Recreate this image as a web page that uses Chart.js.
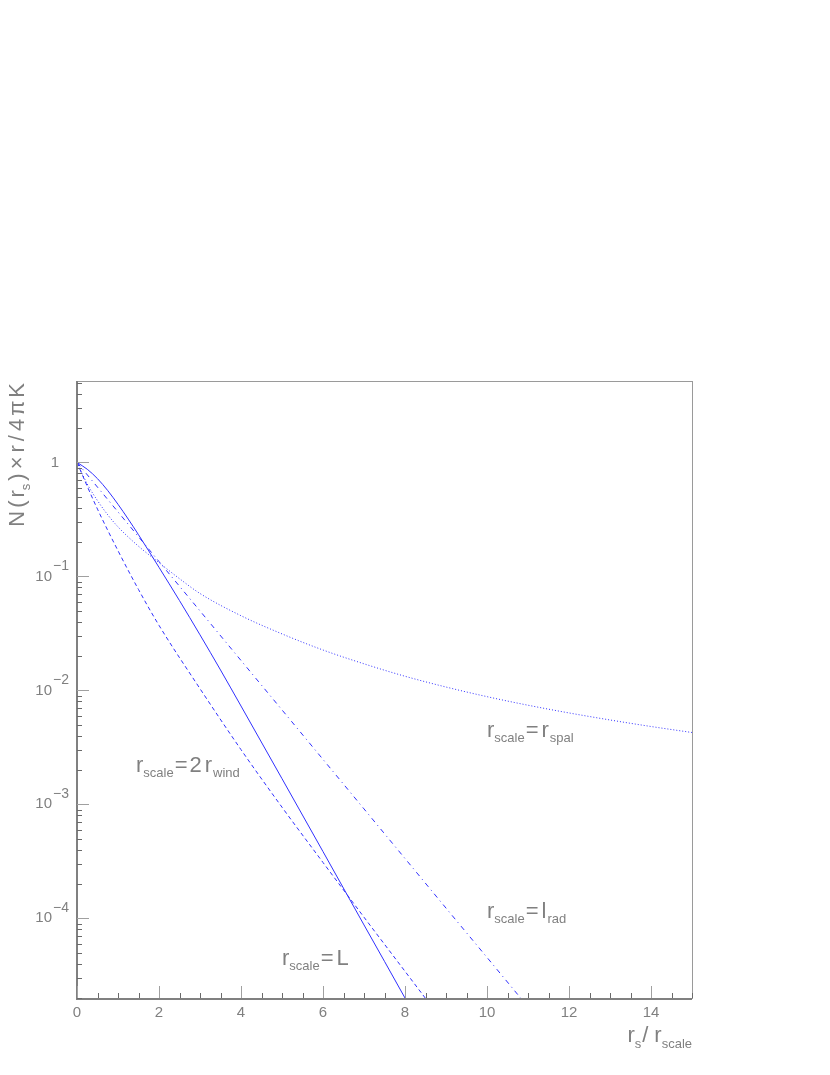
<!DOCTYPE html>
<html>
<head>
<meta charset="utf-8">
<script src="https://cdn.jsdelivr.net/npm/chart.js@4/dist/chart.umd.min.js"></script>
<style>
html,body{margin:0;padding:0;background:#fff;}
canvas{display:block;}
</style>
</head>
<body>
<canvas id="c" width="830" height="1075"></canvas>
<script>
// ---- data ----
const xL      = [0, 0.25, 0.5, 0.75, 1, 1.25, 1.5, 2, 2.5, 3, 3.5, 4, 5, 6, 7, 8, 8.1];
const yL      = [1, 0.871, 0.720, 0.566, 0.429, 0.318, 0.232, 0.120, 0.0613, 0.0307, 0.0151, 0.00729, 0.00168, 3.85e-4, 8.75e-5, 2.0e-5, 1.72e-5];

const xWind   = [0, 0.25, 0.5, 1, 1.5, 2, 3, 4, 5, 6, 7, 8, 8.6];
const yWind   = [1, 0.617, 0.389, 0.168, 0.0767, 0.0372, 0.01035, 3.02e-3, 9.44e-4, 3.09e-4, 1.023e-4, 3.43e-5, 1.78e-5];

const xRad    = [0, 1, 2, 3, 4, 5, 6, 7, 8, 9, 10, 11];
const yRad    = [1, 0.368, 0.135, 0.0498, 0.0183, 6.74e-3, 2.48e-3, 9.12e-4, 3.35e-4, 1.23e-4, 4.54e-5, 1.67e-5];

const xSpal   = [0, 0.25, 0.5, 0.75, 1, 1.5, 2, 2.5, 3, 4, 5, 6, 7, 8, 9, 10, 11, 12, 13, 14, 15];
const ySpal   = [1, 0.646, 0.462, 0.347, 0.272, 0.184, 0.132, 0.0955, 0.0708, 0.0452, 0.0313, 0.0226, 0.0171, 0.0133, 0.0107, 0.00881, 0.00741, 0.00634, 0.0055, 0.00482, 0.00427];

const xTickLabels = ['0', '2', '4', '6', '8', '10', '12', '14'];
const yTickLabels = [{v: 1, base: '1', exp: ''}, {v: 0.1, base: '10', exp: '\u22121'}, {v: 0.01, base: '10', exp: '\u22122'}, {v: 0.001, base: '10', exp: '\u22123'}, {v: 0.0001, base: '10', exp: '\u22124'}];

const xMin = 0, xMax = 15, yMin = 2e-5, yMax = 5.18;

function pts(xs, ys) { return xs.map((x, i) => ({x: x, y: ys[i]})); }

const GRAY = '#808080';
const FONT = '"Liberation Sans", Arial, sans-serif';

// draw text with sub/superscripts: parts = [[text, size, dy, gapAfter], ...]
function drawParts(ctx, parts, x, y) {
  let cx = x;
  for (const [t, size, dy, gap] of parts) {
    ctx.font = size + 'px ' + FONT;
    ctx.fillText(t, cx, y + dy);
    cx += ctx.measureText(t).width + (gap || 0);
  }
  return cx;
}
function partsWidth(ctx, parts) {
  let w = 0;
  for (const [t, size, dy, gap] of parts) { ctx.font = size + 'px ' + FONT; w += ctx.measureText(t).width + (gap || 0); }
  return w;
}

const decor = {
  id: 'decor',
  afterDraw(chart) {
    const ctx = chart.ctx, a = chart.chartArea, xs = chart.scales.x, ys = chart.scales.y;
    ctx.save();
    // frame
    ctx.strokeStyle = '#9a9a9a';
    ctx.lineWidth = 1;
    ctx.strokeRect(Math.round(a.left) + 0.5, Math.round(a.top) + 0.5, Math.round(a.right - a.left), Math.round(a.bottom - a.top));
    // axes lines (thicker)
    ctx.strokeStyle = GRAY;
    ctx.lineWidth = 2;
    ctx.beginPath();
    ctx.moveTo(a.left, a.top); ctx.lineTo(a.left, a.bottom + 1); ctx.lineTo(a.right, a.bottom + 1);
    ctx.stroke();
    // x ticks
    ctx.lineWidth = 1;
    for (let v = xMin; v <= xMax + 1e-9; v += 0.5) {
      const px = Math.round(xs.getPixelForValue(v)) + 0.5;
      const major = Math.abs(v / 2 - Math.round(v / 2)) < 1e-9;
      const len = major ? 12 : 5;
      ctx.strokeStyle = major ? '#a0a0a0' : '#6a6a6a';
      ctx.beginPath(); ctx.moveTo(px, a.bottom); ctx.lineTo(px, a.bottom - len); ctx.stroke();
    }
    // y ticks (log)
    for (let d = -5; d <= 0; d++) {
      for (let m = 1; m <= 9; m++) {
        const v = m * Math.pow(10, d);
        if (v < yMin * 0.999 || v > yMax) continue;
        const py = Math.round(ys.getPixelForValue(v)) + 0.5;
        const len = m === 1 ? 12 : 5;
        ctx.strokeStyle = m === 1 ? '#a0a0a0' : '#6a6a6a';
        ctx.beginPath(); ctx.moveTo(a.left, py); ctx.lineTo(a.left + len, py); ctx.stroke();
      }
    }
    // x tick labels
    ctx.fillStyle = GRAY;
    ctx.textBaseline = 'middle';
    ctx.textAlign = 'center';
    ctx.font = '15px ' + FONT;
    xTickLabels.forEach(t => {
      const px = xs.getPixelForValue(parseFloat(t));
      ctx.fillText(t, px, a.bottom + 15);
    });
    // y tick labels
    ctx.textAlign = 'left';
    yTickLabels.forEach(t => {
      const py = ys.getPixelForValue(t.v);
      const parts = [[t.base, 15, 0, 1]];
      if (t.exp) parts.push([t.exp, 14, -10]);
      const w = partsWidth(ctx, parts);
      const right = t.exp ? 69 : 60;
      drawParts(ctx, parts, right - w, py);
    });
    // x axis title
    ctx.textBaseline = 'alphabetic';
    {
      const parts = [['r', 22, 0, 0], ['s', 13, 6, 1], ['/', 22, 0, 6], ['r', 22, 0, 0], ['scale', 13, 6]];
      const w = partsWidth(ctx, parts);
      drawParts(ctx, parts, a.right - w, 1042);
    }
    // y axis title (rotated)
    ctx.save();
    ctx.translate(24, 383);
    ctx.rotate(-Math.PI / 2);
    {
      const parts = [['N', 22, 0, 3], ['(', 22, 0, 3], ['r', 22, 0, 0], ['s', 13, 6, 3], [')', 22, 0, 4], ['\u00d7', 22, 0, 4], ['r', 22, 0, 4], ['/', 22, 0, 4], ['4', 22, 0, 3], ['\u03c0', 22, 0, 3], ['K', 22, 0, 0]];
      const w = partsWidth(ctx, parts);
      drawParts(ctx, parts, -w, 0);
    }
    ctx.restore();
    // curve annotations
    const ann = [
      {x: 487, y: 737, parts: [['r', 22, 0, 0], ['scale', 13, 5, 1], ['=', 22, 0, 3], ['r', 22, 0, 1], ['spal', 13, 5]]},
      {x: 487, y: 918, parts: [['r', 22, 0, 0], ['scale', 13, 5, 1], ['=', 22, 0, 3], ['l', 22, 0, 1], ['rad', 13, 5]]},
      {x: 136, y: 772, parts: [['r', 22, 0, 0], ['scale', 13, 5, 1], ['=', 22, 0, 2], ['2', 22, 0, 3], ['r', 22, 0, 1], ['wind', 13, 5]]},
      {x: 282, y: 965, parts: [['r', 22, 0, 0], ['scale', 13, 5, 1], ['=', 22, 0, 3], ['L', 22, 0, 0]]}
    ];
    ann.forEach(an => drawParts(ctx, an.parts, an.x, an.y));
    ctx.restore();
  }
};

const common = {showLine: true, pointRadius: 0, borderWidth: 1, borderColor: '#3030ff', fill: false, cubicInterpolationMode: 'monotone'};

new Chart(document.getElementById('c'), {
  type: 'scatter',
  data: {
    datasets: [
      Object.assign({label: 'r_scale=L', data: pts(xL, yL)}, common),
      Object.assign({label: 'r_scale=2r_wind', data: pts(xWind, yWind), borderDash: [4, 3]}, common),
      Object.assign({label: 'r_scale=l_rad', data: pts(xRad, yRad), borderDash: [5, 4, 1, 4]}, common),
      Object.assign({label: 'r_scale=r_spal', data: pts(xSpal, ySpal), borderDash: [1, 2]}, common)
    ]
  },
  options: {
    responsive: false,
    animation: false,
    layout: {padding: {left: 77, right: 138, top: 381, bottom: 77}},
    plugins: {legend: {display: false}, tooltip: {enabled: false}},
    scales: {
      x: {type: 'linear', min: xMin, max: xMax, display: false},
      y: {type: 'logarithmic', min: yMin, max: yMax, display: false}
    }
  },
  plugins: [decor]
});
</script>
</body>
</html>
